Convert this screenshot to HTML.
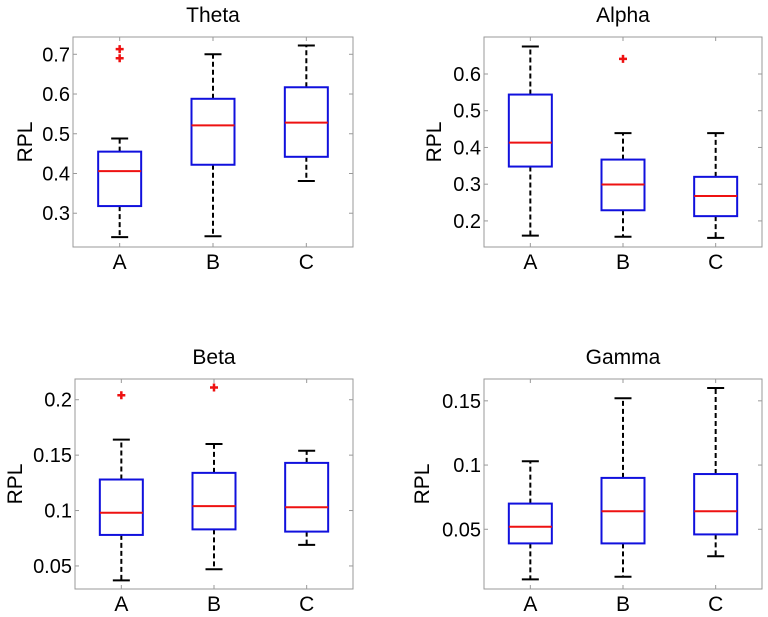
<!DOCTYPE html>
<html><head><meta charset="utf-8">
<style>
html,body{margin:0;padding:0;background:#fff;}
svg{display:block;font-family:"Liberation Sans",Arial,sans-serif;}
</style></head>
<body>
<svg id="fig" width="768" height="617" viewBox="0 0 768 617" xmlns="http://www.w3.org/2000/svg"></svg>
<script>
const categories = ["A","B","C"];
const thetaLow = [0.240, 0.242, 0.381];
const thetaQ1 = [0.318, 0.422, 0.442];
const thetaMed = [0.406, 0.521, 0.528];
const thetaQ3 = [0.455, 0.588, 0.617];
const thetaHigh = [0.488, 0.700, 0.722];
const thetaOut = [[0.713, 0.690], [], []];
const thetaTicks = ["0.3","0.4","0.5","0.6","0.7"];

const alphaLow = [0.160, 0.157, 0.154];
const alphaQ1 = [0.348, 0.229, 0.213];
const alphaMed = [0.413, 0.299, 0.268];
const alphaQ3 = [0.544, 0.367, 0.320];
const alphaHigh = [0.675, 0.439, 0.439];
const alphaOut = [[], [0.641], []];
const alphaTicks = ["0.2","0.3","0.4","0.5","0.6"];

const betaLow = [0.037, 0.047, 0.069];
const betaQ1 = [0.078, 0.083, 0.081];
const betaMed = [0.098, 0.104, 0.103];
const betaQ3 = [0.128, 0.134, 0.143];
const betaHigh = [0.164, 0.160, 0.154];
const betaOut = [[0.204], [0.211], []];
const betaTicks = ["0.05","0.1","0.15","0.2"];

const gammaLow = [0.011, 0.013, 0.029];
const gammaQ1 = [0.039, 0.039, 0.046];
const gammaMed = [0.052, 0.064, 0.064];
const gammaQ3 = [0.070, 0.090, 0.093];
const gammaHigh = [0.103, 0.152, 0.160];
const gammaOut = [[], [], []];
const gammaTicks = ["0.05","0.1","0.15"];

const NS = "http://www.w3.org/2000/svg";
const svg = document.getElementById("fig");
function mk(tag, attrs, parent){
  const e = document.createElementNS(NS, tag);
  for (const k in attrs) e.setAttribute(k, attrs[k]);
  (parent||svg).appendChild(e);
  return e;
}

const panels = [
  {name:"theta", title:"Theta", x0:73, x1:353, y0:37, y1:247, ymin:0.215, ymax:0.7435, lab:41,
   lo:thetaLow,q1:thetaQ1,md:thetaMed,q3:thetaQ3,hi:thetaHigh,out:thetaOut,ticks:thetaTicks},
  {name:"alpha", title:"Alpha", x0:484, x1:762, y0:37, y1:247, ymin:0.129, ymax:0.7007, lab:43,
   lo:alphaLow,q1:alphaQ1,md:alphaMed,q3:alphaQ3,hi:alphaHigh,out:alphaOut,ticks:alphaTicks},
  {name:"beta", title:"Beta", x0:75, x1:353, y0:379, y1:589, ymin:0.0292, ymax:0.2187, lab:53,
   lo:betaLow,q1:betaQ1,md:betaMed,q3:betaQ3,hi:betaHigh,out:betaOut,ticks:betaTicks},
  {name:"gamma", title:"Gamma", x0:484, x1:762, y0:379, y1:589, ymin:0.0035, ymax:0.167, lab:55,
   lo:gammaLow,q1:gammaQ1,md:gammaMed,q3:gammaQ3,hi:gammaHigh,out:gammaOut,ticks:gammaTicks}
];

panels.forEach(p => {
  const g = mk("g", {});
  
  
  const X = i => p.x0 + (p.x1 - p.x0) * (i + 0.5) / 3;
  const Y = v => p.y1 - (v - p.ymin) / (p.ymax - p.ymin) * (p.y1 - p.y0);
  const frame = mk("rect", {x:p.x0, y:p.y0, width:p.x1-p.x0, height:p.y1-p.y0, fill:"none", stroke:"#999", "stroke-width":1}, g);
  
  
  const t = mk("text", {x:(p.x0+p.x1)/2, y:p.y0-15, "text-anchor":"middle", "font-size":21, fill:"#000"}, g);
  t.textContent = p.title;
  
  
  const yl = mk("text", {x:0, y:0, "text-anchor":"middle", "font-size":21, fill:"#000",
    transform:`translate(${p.x0-p.lab},${(p.y0+p.y1)/2}) rotate(-90)`}, g);
  yl.textContent = "RPL";
  
  
  p.ticks.forEach(s => {
    const y = Y(parseFloat(s));
    mk("line", {x1:p.x0, x2:p.x0+4, y1:y, y2:y, stroke:"#999"}, g);
    mk("line", {x1:p.x1, x2:p.x1-4, y1:y, y2:y, stroke:"#999"}, g);
    const tl = mk("text", {x:p.x0-3, y:y+7, "text-anchor":"end", "font-size":20, fill:"#000"}, g);
    tl.textContent = s;
    
    
  });
  categories.forEach((c, i) => {
    const x = X(i);
    mk("line", {x1:x, x2:x, y1:p.y1, y2:p.y1-4, stroke:"#999"}, g);
    mk("line", {x1:x, x2:x, y1:p.y0, y2:p.y0+4, stroke:"#999"}, g);
    const cl = mk("text", {x:x, y:p.y1+22, "text-anchor":"middle", "font-size":21, fill:"#000"}, g);
    cl.textContent = c;
    
    
    const bg = mk("g", {}, g);
    
    
    const hw = 21.5, cw = 8.5;
    mk("line", {x1:x, x2:x, y1:Y(p.q3[i]), y2:Y(p.hi[i]), stroke:"#000", "stroke-width":2, "stroke-dasharray":"5,3"}, bg);
    mk("line", {x1:x, x2:x, y1:Y(p.q1[i]), y2:Y(p.lo[i]), stroke:"#000", "stroke-width":2, "stroke-dasharray":"5,3"}, bg);
    mk("line", {x1:x-cw, x2:x+cw, y1:Y(p.hi[i]), y2:Y(p.hi[i]), stroke:"#000", "stroke-width":2}, bg);
    mk("line", {x1:x-cw, x2:x+cw, y1:Y(p.lo[i]), y2:Y(p.lo[i]), stroke:"#000", "stroke-width":2}, bg);
    mk("rect", {x:x-hw, y:Y(p.q3[i]), width:2*hw, height:Y(p.q1[i])-Y(p.q3[i]), fill:"#fff", stroke:"#1010dd", "stroke-width":2}, bg);
    mk("line", {x1:x-hw, x2:x+hw, y1:Y(p.md[i]), y2:Y(p.md[i]), stroke:"#ee1111", "stroke-width":2}, bg);
    p.out[i].forEach(v => {
      const y = Y(v);
      const o = mk("path", {d:`M${x-4},${y}H${x+4}M${x},${y-4}V${y+4}`, stroke:"#ee1111", "stroke-width":2.5, fill:"none"}, bg);
      
      
    });
  });
});
</script>
</body></html>
